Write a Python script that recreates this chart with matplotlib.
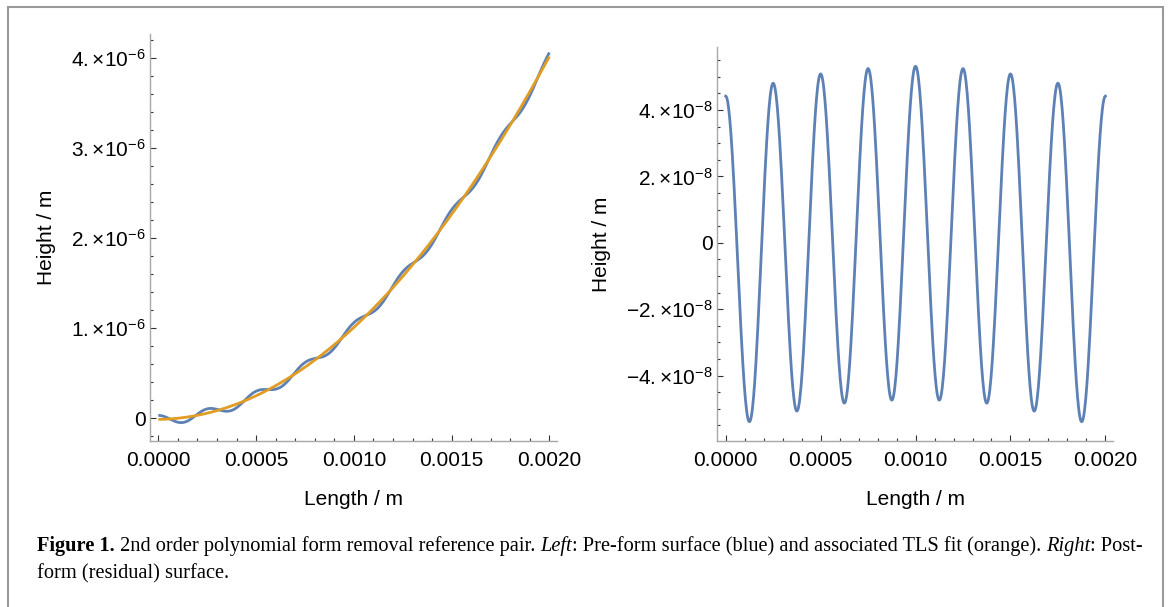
import numpy as np
import matplotlib
matplotlib.use('Agg')
import matplotlib.pyplot as plt
from matplotlib.ticker import FixedLocator, FixedFormatter, MultipleLocator
from matplotlib.patches import Rectangle

plt.rcParams['font.family'] = ['Liberation Sans', 'DejaVu Sans']
plt.rcParams['mathtext.fontset'] = 'custom'
plt.rcParams['mathtext.rm'] = 'Liberation Sans'
plt.rcParams['mathtext.it'] = 'Liberation Sans:italic'
plt.rcParams['mathtext.bf'] = 'Liberation Sans:bold'

# --- data ---
# residual surface: peaks / troughs (every half period), metres
extrema_x = [0.0, 0.000125, 0.00025, 0.000375, 0.0005, 0.000625, 0.00075, 0.000875,
             0.001, 0.001125, 0.00125, 0.001375, 0.0015, 0.001625, 0.00175, 0.001875, 0.002]
residual_ext = [4.42e-8, -5.39e-8, 4.81e-8, -5.07e-8, 5.09e-8, -4.83e-8, 5.25e-8, -4.74e-8,
                5.32e-8, -4.74e-8, 5.25e-8, -4.83e-8, 5.09e-8, -5.07e-8, 4.81e-8, -5.39e-8, 4.42e-8]

# TLS fit (orange) sample heights
fit_x = [0.0, 0.0005, 0.001, 0.0015, 0.002]
fit_y = [0.005e-6, 0.22e-6, 1.0e-6, 2.31e-6, 4.0e-6]

x_ticks = [0.0, 0.0005, 0.001, 0.0015, 0.002]
x_labels = ['0.0000', '0.0005', '0.0010', '0.0015', '0.0020']
left_yticks = [0.0, 1e-6, 2e-6, 3e-6, 4e-6]
left_ylabels = ['0', r'$1.{\times}10^{-6}$', r'$2.{\times}10^{-6}$', r'$3.{\times}10^{-6}$', r'$4.{\times}10^{-6}$']
right_yticks = [-4e-8, -2e-8, 0.0, 2e-8, 4e-8]
right_ylabels = [r'$-4.{\times}10^{-8}$', r'$-2.{\times}10^{-8}$', '0', r'$2.{\times}10^{-8}$', r'$4.{\times}10^{-8}$']

BLUE = '#5E81B5'
ORANGE = '#E19C24'
W, H = 1171, 607
FS = 15


def smooth_path(xe, ye, n=40):
    # draw each half-wave between consecutive extrema as a smooth arc
    xs, ys = [], []
    for i in range(len(xe) - 1):
        t = np.linspace(0, 1, n, endpoint=False)
        xs.append(xe[i] + (xe[i + 1] - xe[i]) * t)
        ys.append(ye[i] + (ye[i + 1] - ye[i]) * (1 - np.cos(np.pi * t)) / 2)
    xs.append([xe[-1]])
    ys.append([ye[-1]])
    return np.concatenate(xs), np.concatenate(ys)


def style_axes(ax, yticks, ylabels, yminor):
    for s in ['top', 'right']:
        ax.spines[s].set_visible(False)
    for s in ['left', 'bottom']:
        ax.spines[s].set_color('#a8a8a8')
        ax.spines[s].set_linewidth(1.0)
    ax.xaxis.set_major_locator(FixedLocator(x_ticks))
    ax.xaxis.set_major_formatter(FixedFormatter(x_labels))
    ax.xaxis.set_minor_locator(MultipleLocator(0.0001))
    ax.yaxis.set_major_locator(FixedLocator(yticks))
    ax.yaxis.set_major_formatter(FixedFormatter(ylabels))
    ax.yaxis.set_minor_locator(MultipleLocator(yminor))
    ax.tick_params(which='both', direction='in', color='#333333', width=0.8, labelsize=FS)
    ax.tick_params(which='major', length=4.5)
    ax.tick_params(which='minor', length=2.5)
    ax.tick_params(axis='x', pad=7)
    ax.tick_params(axis='y', pad=3)
    ax.patch.set_alpha(0)


fig = plt.figure(figsize=(W / 100, H / 100), dpi=100)

res_x, res_y = smooth_path(extrema_x, residual_ext)
coef = np.polyfit(fit_x, fit_y, 2)
fit_curve = np.polyval(coef, res_x)

# left: pre-form surface + TLS fit
ax1 = fig.add_axes([150 / W, 1 - 441 / H, 407 / W, 407 / H])
ax1.plot(res_x, fit_curve + res_y, color=BLUE, lw=2.0, solid_capstyle='butt')
ax1.plot(res_x, fit_curve, color=ORANGE, lw=2.0, solid_capstyle='butt')
ax1.set_xlim(-0.0000425, 0.002039)
ax1.set_ylim(-0.252e-6, 4.27e-6)
style_axes(ax1, left_yticks, left_ylabels, 0.2e-6)

# right: residual surface
ax2 = fig.add_axes([717 / W, 1 - 441 / H, 396 / W, 394 / H])
ax2.plot(res_x, res_y, color=BLUE, lw=2.0)
ax2.set_xlim(-0.0000458, 0.00204)
ax2.set_ylim(-5.97e-8, 5.90e-8)
style_axes(ax2, right_yticks, right_ylabels, 0.5e-8)

# axis labels
fig.text(354 / W, 1 - 505 / H, 'Length / m', fontsize=FS, ha='center', va='baseline')
fig.text(916 / W, 1 - 505 / H, 'Length / m', fontsize=FS, ha='center', va='baseline')
fig.text(46 / W, 1 - 237 / H, 'Height / m', fontsize=FS, rotation=90, ha='center', va='center')
fig.text(601 / W, 1 - 244 / H, 'Height / m', fontsize=FS, rotation=90, ha='center', va='center')

# frame around the figure
fig.add_artist(Rectangle((8 / W, -0.1), (1163 - 8) / W, 1 - 7 / H + 0.1, fill=False,
                         ec='#9a9a9a', lw=1.5, transform=fig.transFigure, clip_on=False))

# caption, pieces set one after another
renderer = fig.canvas.get_renderer()
pieces = [('Figure 1.', 'bold', 'normal'),
          (' 2nd order polynomial form removal reference pair. ', 'normal', 'normal'),
          ('Left', 'normal', 'italic'),
          (': Pre-form surface (blue) and associated TLS fit (orange). ', 'normal', 'normal'),
          ('Right', 'normal', 'italic'),
          (': Post-', 'normal', 'normal')]
x = 37
for txt, wt, st in pieces:
    t = fig.text(x / W, 1 - 551 / H, txt, fontsize=14.7, family='Liberation Serif',
                 weight=wt, style=st, ha='left', va='baseline')
    x = t.get_window_extent(renderer).x1
fig.text(37 / W, 1 - 578 / H, 'form (residual) surface.', fontsize=14.7, family='Liberation Serif',
         ha='left', va='baseline')

fig.savefig('out.png', dpi=100)
